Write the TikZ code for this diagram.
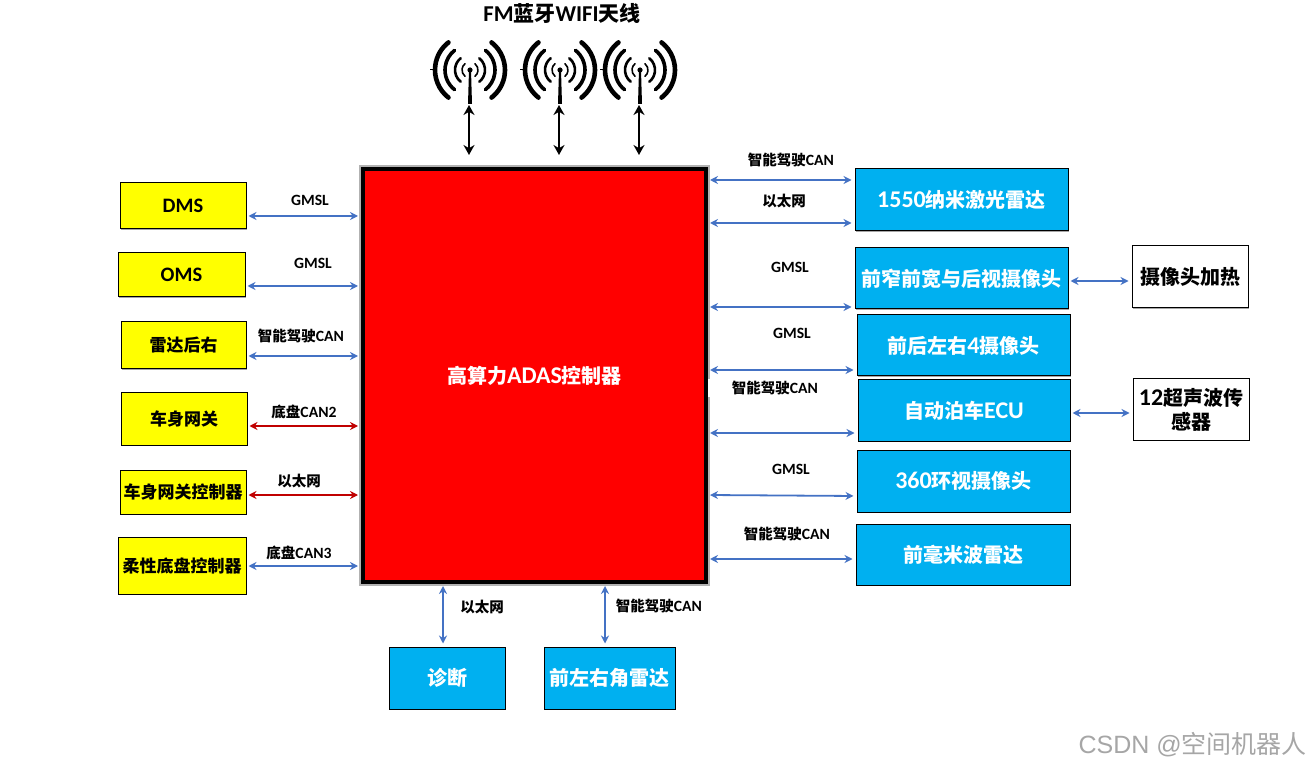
\documentclass[tikz,border=0pt]{standalone}
\usepackage{fontspec,xcolor}
\usetikzlibrary{arrows.meta,shadows}
\setmainfont{Carlito}[Scale=1.08]
\newfontfamily\cjk{Noto Sans CJK SC}
\newfontfamily\markfont{Liberation Sans}
\definecolor{ctrlred}{HTML}{FF0000}
\definecolor{boxblue}{HTML}{00B0F0}
\definecolor{boxyellow}{HTML}{FFFF00}
\definecolor{linkblue}{HTML}{4472C4}
\definecolor{linkred}{HTML}{C00000}
\newcommand{\zh}[1]{{\cjk #1}}
\newcommand{\lat}[1]{{\fontsize{22.2}{23}\selectfont #1}}
\tikzset{
  boxbase/.style={draw=black, line width=1pt, inner sep=0pt, align=center,
    drop shadow={shadow xshift=1pt, shadow yshift=-1pt, fill=black, opacity=.35}},
  yellowbox/.style={boxbase, fill=boxyellow, font=\fontsize{17}{20}\selectfont\bfseries},
  bluebox/.style={boxbase, fill=boxblue, text=white, font=\fontsize{20}{23}\selectfont\bfseries},
  whitebox/.style={boxbase, fill=white, font=\fontsize{20}{24}\selectfont\bfseries},
  link/.style={{Stealth[length=8pt,width=8pt]}-{Stealth[length=8pt,width=8pt]}, line width=1.8pt, linkblue,
    shorten <=2pt, shorten >=3pt},
  redlink/.style={link, linkred},
  antlink/.style={{Stealth[length=10pt,width=11pt]}-{Stealth[length=10pt,width=11pt]}, line width=2.6pt, black},
  tag/.style={inner sep=0pt, font=\fontsize{14.5}{16}\selectfont\bfseries},
  antenna/.pic={
    \foreach \r/\w in {35/4.6, 25/3.6, 15/2.6, 8/1.6} {
      \draw[line width=\w pt, line cap=round] (128:\r) arc[start angle=128, end angle=232, radius=\r];
      \draw[line width=\w pt, line cap=round] (-52:\r) arc[start angle=-52, end angle=52, radius=\r];
    }
    \fill (0,0) circle (2.6);
    \fill (-1,0) -- (1,0) -- (2,34) -- (-2,34) -- cycle;
    \draw[line width=1pt] (-40,0) -- (-33,0);
    \coordinate (-base) at (-1,35);
  }
}

\begin{document}
\begin{tikzpicture}[x=1pt, y=-1pt]
  \useasboundingbox (0,0) rectangle (1310,767);

  % controller
  \node[draw=black, line width=4pt, fill=ctrlred, text=white, inner sep=0pt,
    minimum width=343pt, minimum height=413pt, font=\fontsize{20}{23}\selectfont\bfseries,
    preaction={draw=gray!60, line width=8pt}]
    (adas) at (534.5,375.5) {\zh{高算力}\lat{ADAS}\zh{控制器}};

  % antennas
  \node[inner sep=0pt, font=\fontsize{21}{23}\selectfont\bfseries] (title) at (562,13) {FM\zh{蓝牙}WIFI\zh{天线}};
  \pic (ant1) at (470,70) {antenna};
  \pic (ant2) at (560,70) {antenna};
  \pic (ant3) at (640,70) {antenna};
  \draw[antlink, shorten >=12pt] (ant1-base) -- (ant1-base |- adas.north);
  \draw[antlink, shorten >=12pt] (ant2-base) -- (ant2-base |- adas.north);
  \draw[antlink, shorten >=12pt] (ant3-base) -- (ant3-base |- adas.north);

  % left column
  \node[yellowbox, minimum width=126pt, minimum height=46pt, font=\fontsize{19}{20}\selectfont\bfseries] (dms) at (183,206) {DMS};
  \node[yellowbox, minimum width=127pt, minimum height=44pt, font=\fontsize{19}{20}\selectfont\bfseries] (oms) at (181.5,275) {OMS};
  \node[yellowbox, minimum width=125pt, minimum height=47pt] (rear) at (183.5,345.5) {\zh{雷达后右}};
  \node[yellowbox, minimum width=126pt, minimum height=52pt] (body) at (184,419) {\zh{车身网关}};
  \node[yellowbox, minimum width=126pt, minimum height=44pt] (bodyctl) at (183,492) {\zh{车身网关控制器}};
  \node[yellowbox, minimum width=128pt, minimum height=57pt] (chassis) at (182,565.5) {\zh{柔性底盘控制器}};

  \draw[link] (dms.east |- 0,216) -- (adas.west |- 0,216);
  \draw[link] (oms.east |- 0,286) -- (adas.west |- 0,286);
  \draw[link] (rear.east |- 0,356) -- (adas.west |- 0,356);
  \draw[redlink] (body.east |- 0,426) -- (adas.west |- 0,426);
  \draw[redlink] (bodyctl.east |- 0,495) -- (adas.west |- 0,495);
  \draw[link] (chassis.east |- 0,566) -- (adas.west |- 0,566);

  \node[tag] (tdms) at (310,200) {GMSL};
  \node[tag] (toms) at (313,263) {GMSL};
  \node[tag] (trear) at (301,336) {\zh{智能驾驶}CAN};
  \node[tag] (tbody) at (304,412) {\zh{底盘}CAN2};
  \node[tag] (tbodyctl) at (299,481) {\zh{以太网}};
  \node[tag] (tchassis) at (299,553) {\zh{底盘}CAN3};

  % right column
  \node[bluebox, minimum width=213pt, minimum height=62pt] (lidar) at (961.5,200) {\lat{1550}\zh{纳米激光雷达}};
  \node[bluebox, minimum width=213pt, minimum height=61pt] (frontcam) at (961.5,278.5) {\zh{前窄前宽与后视摄像头}};
  \node[bluebox, minimum width=213pt, minimum height=61pt] (fourcam) at (963.5,345.5) {\zh{前后左右}\lat{4}\zh{摄像头}};
  \node[bluebox, minimum width=212pt, minimum height=61pt] (park) at (964,410.5) {\zh{自动泊车}\lat{ECU}};
  \node[bluebox, minimum width=213pt, minimum height=62pt] (surround) at (963.5,481) {\lat{360}\zh{环视摄像头}};
  \node[bluebox, minimum width=214pt, minimum height=61pt] (mmw) at (963,554.5) {\zh{前毫米波雷达}};
  \node[whitebox, minimum width=116pt, minimum height=62pt] (heater) at (1190,277) {\zh{摄像头加热}};
  \node[whitebox, minimum width=116pt, minimum height=61pt] (sonar) at (1191,409.5) {\lat{12}\zh{超声波传}\\\zh{感器}};

  \draw[link] (adas.east |- 0,180) -- (lidar.west |- 0,180);
  \draw[link] (adas.east |- 0,223) -- (lidar.west |- 0,223);
  \draw[link] (adas.east |- 0,307) -- (frontcam.west |- 0,307);
  \draw[link] (adas.east |- 0,370) -- (fourcam.west |- 0,370);
  \draw[link] (adas.east |- 0,433) -- (park.west |- 0,433);
  \draw[link] (adas.east |- 0,495) -- (surround.west |- 0,496);
  \draw[link] (adas.east |- 0,559) -- (mmw.west |- 0,559);
  \draw[link] (frontcam.east |- 0,281) -- (heater.west |- 0,281);
  \draw[link] (park.east |- 0,413) -- (sonar.west |- 0,413);

  \node[tag] (tlidar) at (791,160) {\zh{智能驾驶}CAN};
  \node[tag] (teth) at (784,201) {\zh{以太网}};
  \node[tag] (tfront) at (790,267) {GMSL};
  \node[tag] (tfour) at (792,333) {GMSL};
  \node[tag, fill=white, minimum width=134pt, minimum height=18pt] (tpark) at (775,388) {\zh{智能驾驶}CAN};
  \node[tag] (tsurround) at (791,469) {GMSL};
  \node[tag] (tmmw) at (787,534) {\zh{智能驾驶}CAN};

  % bottom row
  \node[bluebox, minimum width=116pt, minimum height=62pt] (diag) at (447,678) {\zh{诊断}};
  \node[bluebox, minimum width=131pt, minimum height=62pt] (corner) at (609.5,678) {\zh{前左右角雷达}};
  \draw[link] (adas.south -| 443,0) -- (diag.north -| 443,0);
  \draw[link] (adas.south -| 605,0) -- (corner.north -| 605,0);
  \node[tag] (tdiag) at (482,607) {\zh{以太网}};
  \node[tag] (tcorner) at (659,606) {\zh{智能驾驶}CAN};

  % watermark
  \node[inner sep=0pt, anchor=east, text=gray!70, font=\fontsize{25}{28}\selectfont] (csdn) at (1307,745) {\markfont CSDN @\zh{空间机器人}};
\end{tikzpicture}
\end{document}
